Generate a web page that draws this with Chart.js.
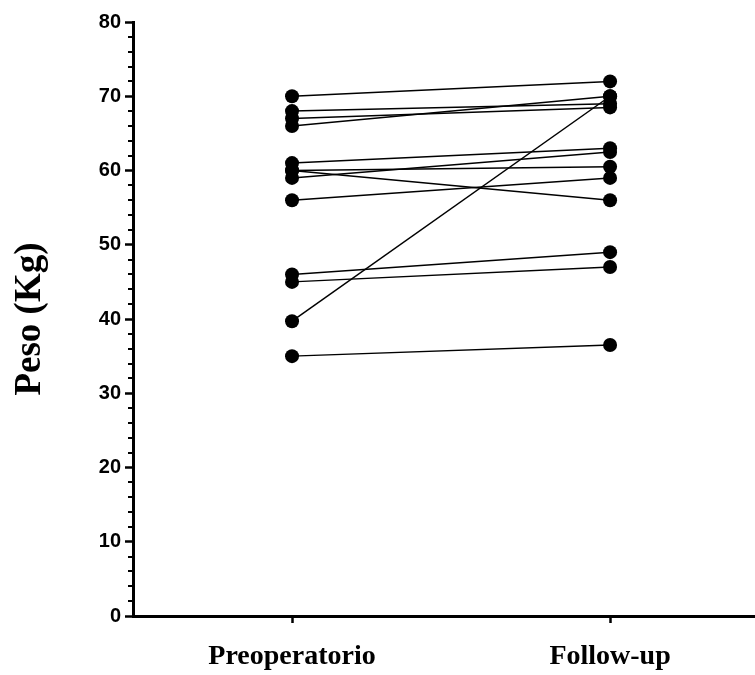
<!DOCTYPE html>
<html>
<head>
<meta charset="utf-8">
<script src="https://cdn.jsdelivr.net/npm/chart.js@4"></script>
<style>
html,body{margin:0;padding:0;background:#fff;}
#wrap{width:755px;height:675px;position:relative;}
</style>
</head>
<body>
<div id="wrap"><canvas id="c" width="755" height="675"></canvas></div>
<script>
const categories = ['Preoperatorio', 'Follow-up'];
const preoperatorio = [70, 68, 67, 66, 61, 60, 60, 59, 56, 46, 45, 39.7, 35];
const followUp     = [72, 69, 68.5, 70, 63, 60.5, 56, 62.5, 59, 49, 47, 70, 36.5];
const yTicks = [0, 10, 20, 30, 40, 50, 60, 70, 80];
const yTitle = 'Peso (Kg)';

const datasets = preoperatorio.map((v, i) => ({
  data: [{x: 0, y: v}, {x: 1, y: followUp[i]}],
  showLine: true,
  borderColor: '#000',
  borderWidth: 1.5,
  backgroundColor: '#000',
  pointRadius: 7,
  pointBorderWidth: 0,
  pointBackgroundColor: '#000'
}));

const minorTicks = {
  id: 'minorTicks',
  afterDraw(chart) {
    const y = chart.scales.y;
    const ctx = chart.ctx;
    ctx.save();
    ctx.strokeStyle = '#000';
    ctx.lineWidth = 2;
    for (let v = 0; v <= 80; v += 2) {
      if (v % 10 === 0) continue;
      const py = Math.round(y.getPixelForValue(v));
      ctx.beginPath();
      ctx.moveTo(y.right, py);
      ctx.lineTo(y.right - 5, py);
      ctx.stroke();
    }
    ctx.restore();
  }
};

new Chart(document.getElementById('c'), {
  type: 'scatter',
  data: { datasets },
  plugins: [minorTicks],
  options: {
    responsive: false,
    animation: false,
    events: [],
    clip: false,
    layout: { autoPadding: false, padding: { top: 22, right: 0, left: 0, bottom: 0 } },
    plugins: { legend: { display: false }, tooltip: { enabled: false } },
    scales: {
      x: {
        type: 'linear',
        min: -0.5,
        max: 1.4557,
        afterFit(scale) { scale.height = 59; scale.paddingLeft = 0; scale.paddingRight = 0; },
        afterBuildTicks(scale) { scale.ticks = [{value: 0}, {value: 1}]; },
        grid: { drawOnChartArea: false, tickLength: 7, tickWidth: 2.5, tickColor: '#000' },
        border: { display: true, width: 3, color: '#000' },
        ticks: {
          color: '#000',
          padding: 17,
          maxRotation: 0,
          autoSkip: false,
          font: { family: '"Liberation Serif", "Times New Roman", serif', size: 28, weight: 'bold' },
          callback: (v) => categories[v]
        }
      },
      y: {
        type: 'linear',
        min: 0,
        max: 80,
        afterFit(scale) { scale.width = 133; scale.paddingTop = 0; scale.paddingBottom = 0; },
        afterBuildTicks(scale) { scale.ticks = yTicks.map(v => ({value: v})); },
        grid: { drawOnChartArea: false, tickLength: 8, tickWidth: 2.5, tickColor: '#000' },
        border: { display: true, width: 3, color: '#000' },
        title: {
          display: true,
          text: yTitle,
          color: '#000',
          padding: { top: 8, bottom: 0 },
          font: { family: '"Liberation Serif", "Times New Roman", serif', size: 37, weight: 'bold' }
        },
        ticks: {
          color: '#000',
          padding: 4,
          font: { family: '"Liberation Sans", Arial, sans-serif', size: 20, weight: 'bold' }
        }
      }
    }
  }
});
</script>
</body>
</html>
